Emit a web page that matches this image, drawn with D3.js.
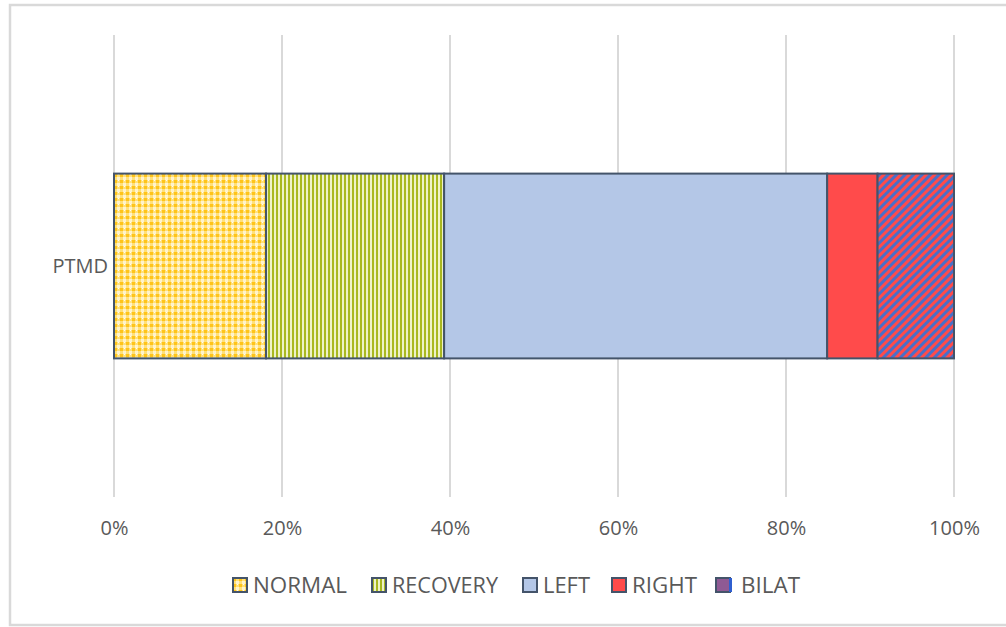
<!DOCTYPE html>
<html>
<head>
<meta charset="utf-8">
<script src="https://cdn.jsdelivr.net/npm/d3@7"></script>
<style>
  body { margin: 0; background: #fff; }
  text { font-family: "Open Sans", "Liberation Sans", sans-serif; fill: #595959; }
</style>
</head>
<body>
<div class="chartDiv"></div>
<script>
"use strict"

// data (percent of PTMD group)
var categories = ["PTMD"];
var seriesNames = ["NORMAL", "RECOVERY", "LEFT", "RIGHT", "BILAT"];
var seriesValues = [18.1, 21.2, 45.6, 6.0, 9.1];
var tickValues = [0, 20, 40, 60, 80, 100];

var width = 1006;
var height = 627;
var plot = {left: 114, right: 954, top: 35, bottom: 497};

var svg = d3.select(".chartDiv").append("svg")
    .attr("width", width)
    .attr("height", height);

// outer frame
svg.append("rect")
    .attr("x", 10).attr("y", 5)
    .attr("width", 1000).attr("height", 620)
    .attr("fill", "#fff")
    .attr("stroke", "#d9d9d9")
    .attr("stroke-width", 2.5);

var defs = svg.append("defs");

// NORMAL: small yellow checker
var pNormal = defs.append("pattern").attr("id", "pNormal")
    .attr("patternUnits", "userSpaceOnUse").attr("width", 6).attr("height", 6);
pNormal.append("rect").attr("width", 6).attr("height", 6).attr("fill", "#ffe07a");
pNormal.append("rect").attr("x", 0).attr("y", 0).attr("width", 3).attr("height", 3).attr("fill", "#ffc41a");
pNormal.append("rect").attr("x", 3).attr("y", 3).attr("width", 3).attr("height", 3).attr("fill", "#fff3cc");
pNormal.append("rect").attr("x", 4).attr("y", 0).attr("width", 1).attr("height", 1).attr("fill", "#fffaf0");

// RECOVERY: vertical olive stripes
var pRecovery = defs.append("pattern").attr("id", "pRecovery")
    .attr("patternUnits", "userSpaceOnUse").attr("width", 4).attr("height", 4);
pRecovery.append("rect").attr("width", 4).attr("height", 4).attr("fill", "#eef2c8");
pRecovery.append("rect").attr("width", 2).attr("height", 4).attr("fill", "#a9b820");

// BILAT: diagonal red/blue stripes
var pBilat = defs.append("pattern").attr("id", "pBilat")
    .attr("patternUnits", "userSpaceOnUse").attr("width", 6).attr("height", 6)
    .attr("patternTransform", "rotate(45)");
pBilat.append("rect").attr("width", 6).attr("height", 6).attr("fill", "#ff4b4b");
pBilat.append("rect").attr("width", 3).attr("height", 6).attr("fill", "#4a6fc8");

var fills = ["url(#pNormal)", "url(#pRecovery)", "#b4c7e7", "#ff4b4b", "url(#pBilat)"];
var legendFills = ["url(#pNormal)", "url(#pRecovery)", "#b4c7e7", "#ff4b4b", "#8f5a94"];

var x = d3.scaleLinear().domain([0, 100]).range([plot.left, plot.right]);
var y = d3.scaleBand().domain(categories).range([plot.top, plot.bottom]).paddingInner(0.6).paddingOuter(0.3);

// gridlines
svg.append("g").selectAll("line")
    .data(tickValues)
    .enter().append("line")
    .attr("x1", function(d) { return x(d) })
    .attr("x2", function(d) { return x(d) })
    .attr("y1", plot.top)
    .attr("y2", plot.bottom)
    .attr("stroke", "#d9d9d9")
    .attr("stroke-width", 2);

// tick labels
var axis = d3.axisBottom(x).tickValues(tickValues).tickSize(0).tickFormat(function(d) { return d + "%" });
var axisGroup = svg.append("g")
    .attr("transform", "translate(0," + (plot.bottom + 21) + ")")
    .call(axis);
axisGroup.select(".domain").remove();
axisGroup.selectAll("text")
    .attr("font-size", 20)
    .attr("fill", "#595959")
    .style("font-family", "'Open Sans', sans-serif");

// stacked segments
var stack = [];
var acc = 0;
seriesValues.forEach(function(v, i) {
    stack.push({name: seriesNames[i], x0: acc, x1: acc + v, i: i});
    acc += v;
});

svg.append("g").selectAll("rect")
    .data(stack)
    .enter().append("rect")
    .attr("x", function(d) { return x(d.x0) })
    .attr("y", y("PTMD"))
    .attr("width", function(d) { return x(d.x1) - x(d.x0) })
    .attr("height", y.bandwidth())
    .attr("fill", function(d) { return fills[d.i] })
    .attr("stroke", "#44546a")
    .attr("stroke-width", 2);

// category label
svg.append("g").selectAll("text")
    .data(categories)
    .enter().append("text")
    .attr("x", plot.left - 6)
    .attr("y", function(d) { return y(d) + y.bandwidth() / 2 })
    .attr("dy", "0.35em")
    .attr("text-anchor", "end")
    .attr("font-size", 20)
    .text(function(d) { return d });

// legend
var legendX = [233, 372, 523, 612, 716];
var legend = svg.append("g").selectAll("g")
    .data(seriesNames)
    .enter().append("g")
    .attr("transform", function(d, i) { return "translate(" + legendX[i] + ",578)" });
legend.append("rect")
    .attr("width", 14).attr("height", 14)
    .attr("fill", function(d, i) { return legendFills[i] })
    .attr("stroke", "#44546a")
    .attr("stroke-width", 2);
legend.filter(function(d, i) { return i === 4 })
    .append("rect")
    .attr("x", 13).attr("y", 0).attr("width", 3).attr("height", 14)
    .attr("fill", "#2f5fd0");
legend.append("text")
    .attr("x", function(d, i) { return i === 4 ? 25 : 20 })
    .attr("y", 7)
    .attr("dy", "0.36em")
    .attr("font-size", 21)
    .attr("textLength", function(d, i) { return [94, 106, 47, 65, 59][i] })
    .attr("lengthAdjust", "spacingAndGlyphs")
    .text(function(d) { return d });
</script>
</body>
</html>
